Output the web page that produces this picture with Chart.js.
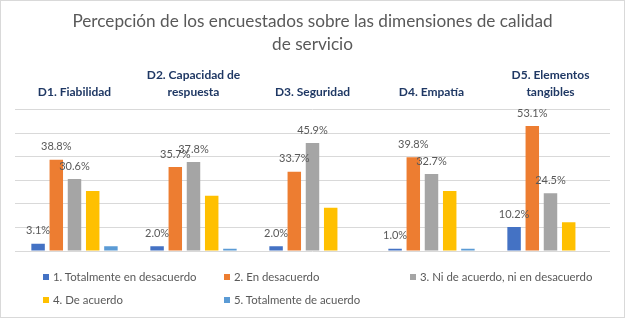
<!DOCTYPE html>
<html>
<head>
<meta charset="utf-8">
<script src="https://cdn.jsdelivr.net/npm/chart.js@4/dist/chart.umd.min.js"></script>
<style>
  html, body { margin: 0; padding: 0; background: #ffffff; }
  #wrap {
    position: relative;
    width: 625px;
    height: 318px;
    box-sizing: border-box;
    border: 1px solid #d9d9d9;
    overflow: hidden;
  }
  #chart { position: absolute; left: -1px; top: -1px; }
  #legend {
    position: absolute;
    left: 42px;
    top: 264px;
    display: grid;
    grid-template-columns: 181px 186px auto;
    grid-auto-rows: 23px;
    font-family: Lato, 'Open Sans', sans-serif;
    font-size: 11.4px;
    color: #595959;
  }
  .item { display: flex; align-items: center; white-space: nowrap; }
  .swatch { width: 6px; height: 6px; margin-right: 4px; flex: none; }
</style>
</head>
<body>
<div id="wrap">
  <canvas id="chart" width="625" height="318"></canvas>
  <div id="legend"></div>
</div>
<script>
  // Chart data
  const titleLines = ['Percepción de los encuestados sobre las dimensiones de calidad', 'de servicio'];
  const dimensions = [
    'D1. Fiabilidad',
    ['D2. Capacidad de', 'respuesta'],
    'D3. Seguridad',
    'D4. Empatía',
    ['D5. Elementos', 'tangibles']
  ];
  const seriesNames = [
    '1. Totalmente en desacuerdo',
    '2. En desacuerdo',
    '3. Ni de acuerdo, ni en desacuerdo',
    '4. De acuerdo',
    '5. Totalmente de acuerdo'
  ];
  const totalDesacuerdo = [3.1, 2.0, 2.0, 1.0, 10.2];
  const enDesacuerdo = [38.8, 35.7, 33.7, 39.8, 53.1];
  const niAcuerdo = [30.6, 37.8, 45.9, 32.7, 24.5];
  const deAcuerdo = [25.5, 23.5, 18.4, 25.5, 12.2];
  const totalAcuerdo = [2.0, 1.0, 0, 1.0, 0];
  const yTicks = [0, 10, 20, 30, 40, 50, 60];

  const seriesValues = [totalDesacuerdo, enDesacuerdo, niAcuerdo, deAcuerdo, totalAcuerdo];
  const colors = ['#4472C4', '#ED7D31', '#A5A5A5', '#FFC000', '#5B9BD5'];
  const labelledSeries = [0, 1, 2];

  // Draws the % value above the bars of the first three series
  const valueLabels = {
    id: 'valueLabels',
    afterDatasetsDraw(chart) {
      const ctx = chart.ctx;
      ctx.save();
      ctx.font = '11px Lato, sans-serif';
      ctx.fillStyle = '#595959';
      ctx.textAlign = 'center';
      ctx.textBaseline = 'middle';
      labelledSeries.forEach(i => {
        const meta = chart.getDatasetMeta(i);
        meta.data.forEach((bar, j) => {
          const v = chart.data.datasets[i].data[j];
          ctx.fillText(v.toFixed(1) + '%', bar.x, bar.y - 13);
        });
      });
      ctx.restore();
    }
  };

  const ctx = document.getElementById('chart').getContext('2d');
  new Chart(ctx, {
    type: 'bar',
    data: {
      labels: dimensions,
      datasets: seriesValues.map((vals, i) => ({
        label: seriesNames[i],
        data: vals,
        backgroundColor: colors[i],
        categoryPercentage: 0.765,
        barPercentage: 0.74
      }))
    },
    options: {
      responsive: false,
      animation: false,
      layout: { padding: { left: 15, right: 15, top: 0, bottom: 67 } },
      scales: {
        x: {
          position: 'top',
          grid: { display: false, drawTicks: false },
          border: { display: false },
          ticks: {
            color: '#1F3864',
            font: { family: 'Lato, sans-serif', size: 12, weight: 'bold', lineHeight: 1.35 },
            padding: 10,
            maxRotation: 0,
            autoSkip: false
          }
        },
        y: {
          min: yTicks[0],
          max: yTicks[yTicks.length - 1],
          afterBuildTicks: axis => { axis.ticks = yTicks.map(v => ({ value: v })); },
          grid: { color: '#d9d9d9', drawTicks: false },
          border: { display: false },
          ticks: { display: false }
        }
      },
      plugins: {
        legend: { display: false },
        tooltip: { enabled: false },
        title: {
          display: true,
          text: titleLines,
          color: '#595959',
          font: { family: 'Lato, sans-serif', size: 17.2, weight: 'normal', lineHeight: 1.35 },
          padding: { top: 10, bottom: 1 }
        }
      }
    },
    plugins: [valueLabels]
  });

  // HTML legend laid out in columns like the original
  const legend = document.getElementById('legend');
  seriesNames.forEach((name, i) => {
    const item = document.createElement('div');
    item.classList.add('item');
    item.innerHTML = `<span class="swatch" style="background:${colors[i]}"></span><span>${name}</span>`;
    legend.appendChild(item);
  });
</script>
</body>
</html>
